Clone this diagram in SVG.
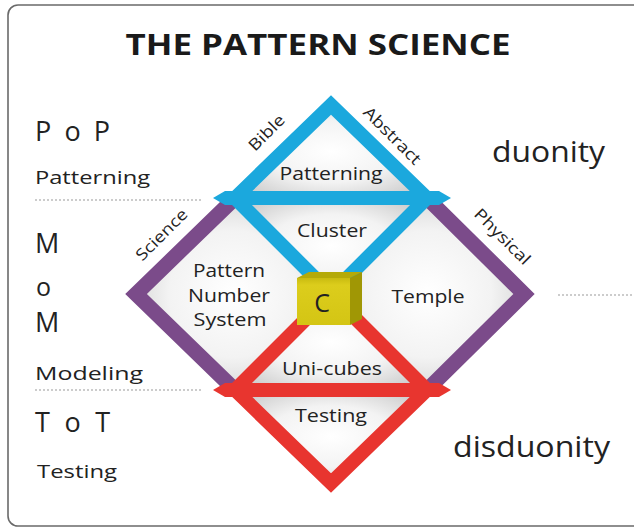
<svg xmlns="http://www.w3.org/2000/svg" width="634" height="528" viewBox="0 0 634 528">
<defs>
<radialGradient id="shade" cx="0.5" cy="0.5" r="0.6">
<stop offset="0" stop-color="#ffffff"/>
<stop offset="0.55" stop-color="#f3f3f3"/>
<stop offset="1" stop-color="#cdcdcd"/>
</radialGradient>
<linearGradient id="cubeFront" x1="0" y1="0" x2="0" y2="1">
<stop offset="0" stop-color="#c9bb10"/>
<stop offset="0.15" stop-color="#dccd1c"/>
<stop offset="1" stop-color="#d4c514"/>
</linearGradient>
</defs>
<style>
text{font-family:"Open Sans","Liberation Sans",sans-serif;fill:#222}
.big{font-size:27px}
.mid{font-size:19px}
.in{font-size:18px;text-anchor:middle}
.edge{font-size:16px;text-anchor:middle}
.dot{stroke:#9a9a9a;stroke-width:1.2;stroke-dasharray:2 2;fill:none}
.region{fill:url(#shade);stroke:none}
.blue{stroke:#1ba8dd;fill:none;stroke-width:14;stroke-linejoin:miter}
.purple{stroke:#7b4b8a;fill:none;stroke-width:15;stroke-linejoin:miter}
.red{stroke:#e8352f;fill:none;stroke-width:14;stroke-linejoin:miter}
</style>
<rect x="8" y="5" width="640" height="521" rx="10" fill="#ffffff" stroke="#6a6a6a" stroke-width="1.6"/>
<text x="318" y="55" style="font-size:29px;font-weight:bold;text-anchor:middle;fill:#1a1a1a" textLength="385" lengthAdjust="spacingAndGlyphs">THE PATTERN SCIENCE</text>

<g id="side-labels">
<text class="big" x="35" y="141" textLength="75">P o P</text>
<text class="mid" x="35" y="184" textLength="115" lengthAdjust="spacingAndGlyphs">Patterning</text>
<text class="big" x="35" y="253">M</text>
<text class="big" x="36" y="296" style="font-size:25px">o</text>
<text class="big" x="35" y="332">M</text>
<text class="mid" x="35" y="380" textLength="108" lengthAdjust="spacingAndGlyphs">Modeling</text>
<text class="big" x="35" y="432" textLength="75">T o T</text>
<text class="mid" x="37" y="478" textLength="80" lengthAdjust="spacingAndGlyphs">Testing</text>
<text class="big" x="492" y="162" style="font-size:29px" textLength="113" lengthAdjust="spacingAndGlyphs">duonity</text>
<text class="big" x="453" y="457" style="font-size:29px" textLength="157" lengthAdjust="spacingAndGlyphs">disduonity</text>
<line class="dot" x1="35" y1="200" x2="203" y2="200"/>
<line class="dot" x1="35" y1="390" x2="203" y2="390"/>
<line class="dot" x1="558" y1="295" x2="634" y2="295"/>
</g>

<g id="node-patterning"><polygon class="region" points="331,105 235,198 427,198"/></g>
<g id="node-cluster"><polygon class="region" points="235,198 427,198 331,294"/></g>
<g id="node-pns"><polygon class="region" points="235,198 136,294 235,390 331,294"/></g>
<g id="node-temple"><polygon class="region" points="427,198 524,294 427,390 331,294"/></g>
<g id="node-unicubes"><polygon class="region" points="331,294 235,390 427,390"/></g>
<g id="node-testing"><polygon class="region" points="235,390 427,390 331,483"/></g>

<g id="connectors">
<polyline class="purple" points="235,198 136,294 235,390"/>
<polyline class="purple" points="427,198 524,294 427,390"/>
<polygon class="blue" points="331,105 235,198 331,294 427,198"/>
<polygon points="213,198 225,191 439,191 451,198 439,205 225,205" fill="#1ba8dd"/>
<polygon class="red" points="331,294 235,390 331,483 427,390"/>
<polygon points="213,390 225,383 439,383 451,390 439,397 225,397" fill="#e8352f"/>
</g>

<g id="node-c">
<polygon points="297,278 309,272 362,272 350,278" fill="#b5aa08"/>
<polygon points="350,278 362,272 362,319 350,325" fill="#a09705"/>
<rect x="297" y="278" width="53" height="47" fill="url(#cubeFront)"/>
<text x="322" y="312" style="font-size:25px;text-anchor:middle">C</text>
</g>

<g id="labels">
<text class="in" x="331" y="180" textLength="103" lengthAdjust="spacingAndGlyphs">Patterning</text>
<text class="in" x="332" y="237" textLength="70" lengthAdjust="spacingAndGlyphs">Cluster</text>
<text class="in" x="229" y="277" textLength="72" lengthAdjust="spacingAndGlyphs">Pattern</text>
<text class="in" x="229" y="302" textLength="82" lengthAdjust="spacingAndGlyphs">Number</text>
<text class="in" x="230" y="326" textLength="73" lengthAdjust="spacingAndGlyphs">System</text>
<text class="in" x="428" y="303" textLength="73" lengthAdjust="spacingAndGlyphs">Temple</text>
<text class="in" x="332" y="375" textLength="100" lengthAdjust="spacingAndGlyphs">Uni-cubes</text>
<text class="in" x="331" y="422" textLength="72" lengthAdjust="spacingAndGlyphs">Testing</text>
<text class="edge" transform="translate(267,133) rotate(-45)" y="5" textLength="44" lengthAdjust="spacingAndGlyphs">Bible</text>
<text class="edge" transform="translate(392,136) rotate(45)" y="5" textLength="74" lengthAdjust="spacingAndGlyphs">Abstract</text>
<text class="edge" transform="translate(162,235) rotate(-45)" y="5" textLength="66" lengthAdjust="spacingAndGlyphs">Science</text>
<text class="edge" transform="translate(502,237) rotate(45)" y="5" textLength="72" lengthAdjust="spacingAndGlyphs">Physical</text>
</g>
</svg>
